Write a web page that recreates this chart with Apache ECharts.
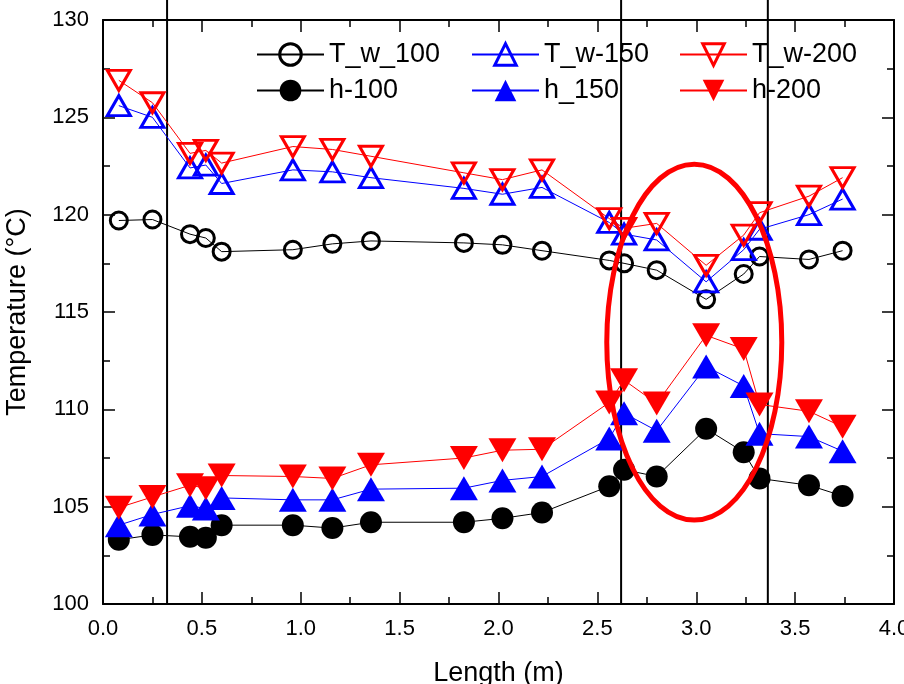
<!DOCTYPE html>
<html>
<head>
<meta charset="utf-8">
<script src="https://cdn.jsdelivr.net/npm/echarts@6/dist/echarts.min.js"></script>
<style>
html,body{margin:0;padding:0;background:#fff;}
#chart{width:904px;height:684px;}
</style>
</head>
<body>
<div id="chart"></div>
<script>
// ---- data ----
const lengths = [0.08, 0.25, 0.44, 0.52, 0.60, 0.96, 1.16, 1.355, 1.825, 2.02, 2.22, 2.56, 2.635, 2.80, 3.05, 3.24, 3.32, 3.57, 3.74];
const Tw100 = [119.7, 119.75, 119.0, 118.8, 118.1, 118.2, 118.5, 118.65, 118.55, 118.45, 118.15, 117.65, 117.5, 117.15, 115.65, 116.95, 117.85, 117.7, 118.15];
const Tw150 = [125.6, 125.0, 122.4, 122.55, 121.6, 122.3, 122.2, 121.9, 121.35, 121.05, 121.4, 119.6, 119.0, 118.7, 116.55, 118.2, 119.25, 120.0, 120.8];
const Tw200 = [126.9, 125.75, 123.15, 123.3, 122.65, 123.5, 123.35, 123.0, 122.15, 121.8, 122.3, 119.8, 119.3, 119.55, 117.4, 118.95, 120.1, 120.95, 121.9];
const h100 = [103.3, 103.55, 103.45, 103.4, 104.05, 104.05, 103.9, 104.2, 104.2, 104.4, 104.7, 106.05, 106.9, 106.55, 109.0, 107.8, 106.45, 106.1, 105.55];
const h150 = [104.05, 104.6, 105.05, 104.9, 105.45, 105.35, 105.35, 105.9, 105.95, 106.35, 106.55, 108.5, 109.8, 108.9, 112.2, 111.2, 108.75, 108.6, 107.85];
const h200 = [104.95, 105.5, 106.1, 105.95, 106.6, 106.55, 106.45, 107.15, 107.5, 107.9, 107.95, 110.35, 111.5, 110.3, 113.8, 113.1, 110.25, 109.9, 109.1];
const seriesNames = ['T_w_100', 'h-100', 'T_w-150', 'h_150', 'T_w-200', 'h-200'];
const refLines = [0.324, 2.62, 3.362];        // vertical reference lines (m)
const refLineTop = 131.05;                     // lines run up past the frame
const ellipseCenter = [2.99, 113.45];          // highlighted region
const ellipseRadii = [0.4425, 9.14];           // half-width (m), half-height (°C)
const xTicks = {min: 0, max: 4, interval: 0.5};
const yTicks = {min: 100, max: 130, interval: 5};

const FONT = 'Liberation Sans, Arial, sans-serif';
const pairs = arr => lengths.map((x, i) => [x, arr[i]]);

function lineSeries(name, arr, color, symbol, rotate, hollow, size) {
  return {
    name: name, type: 'line', data: pairs(arr),
    symbol: symbol, symbolSize: size, symbolRotate: rotate,
    lineStyle: {color: color, width: 1},
    itemStyle: hollow ? {color: 'rgba(255,255,255,0)', borderColor: color, borderWidth: 3}
                      : {color: color, borderWidth: 0},
    color: color,
    emphasis: {disabled: true},
    z: 3
  };
}

const axisCommon = {
  axisLine: {show: true, onZero: false, lineStyle: {color: '#000', width: 2}},
  axisTick: {show: true, inside: true, length: 12, lineStyle: {color: '#000', width: 1.5}},
  minorTick: {show: true, splitNumber: 2, length: 7, lineStyle: {color: '#000', width: 1.5}},
  splitLine: {show: false},
  minorSplitLine: {show: false}
};

function legendItem(name, hollow) {
  return {name: name, itemStyle: {borderWidth: hollow ? 3 : 0}};
}
function legend(data, left) {
  return {
    data: data, orient: 'vertical', left: left, top: 36,
    itemWidth: 67, itemHeight: 27, itemGap: 9,
    textStyle: {fontFamily: FONT, fontSize: 27, color: '#000', lineHeight: 27},
    selectedMode: false
  };
}

const option = {
  backgroundColor: '#fff',
  animation: false,
  grid: {left: 103, top: 20, right: 10, bottom: 80, containLabel: false, outerBoundsMode: 'none'},
  legend: [
    legend([legendItem('T_w_100', true), legendItem('h-100', false)], 251),
    legend([legendItem('T_w-150', true), legendItem('h_150', false)], 466),
    legend([legendItem('T_w-200', true), legendItem('h-200', false)], 674)
  ],
  xAxis: [
    Object.assign({type: 'value', position: 'bottom', min: xTicks.min, max: xTicks.max, interval: xTicks.interval,
      name: 'Length (m)', nameLocation: 'middle', nameGap: 56,
      nameTextStyle: {fontFamily: FONT, fontSize: 27, color: '#000'},
      axisLabel: {fontFamily: FONT, fontSize: 22, color: '#000', margin: 14, formatter: v => v.toFixed(1)}}, axisCommon),
    Object.assign({type: 'value', position: 'top', min: xTicks.min, max: xTicks.max, interval: xTicks.interval,
      axisLabel: {show: false}}, axisCommon)
  ],
  yAxis: [
    Object.assign({type: 'value', position: 'left', min: yTicks.min, max: yTicks.max, interval: yTicks.interval,
      name: 'Temperature (\u00B0C)', nameLocation: 'middle', nameGap: 72, nameRotate: 90,
      nameTextStyle: {fontFamily: FONT, fontSize: 27, color: '#000'},
      axisLabel: {fontFamily: FONT, fontSize: 22, color: '#000', margin: 14}}, axisCommon),
    Object.assign({type: 'value', position: 'right', min: yTicks.min, max: yTicks.max, interval: yTicks.interval,
      axisLabel: {show: false}}, axisCommon)
  ],
  series: [
    {
      type: 'custom', name: 'refLines', data: refLines.map(x => [x]), clip: false, silent: true, z: 2,
      renderItem: function (params, api) {
        const x = api.value(0);
        const p1 = api.coord([x, yTicks.min]);
        const p2 = api.coord([x, refLineTop]);
        return {type: 'line', shape: {x1: p1[0], y1: p1[1], x2: p2[0], y2: p2[1]},
                style: {stroke: '#000', lineWidth: 2}};
      }
    },
    lineSeries('T_w_100', Tw100, '#000000', 'circle', 0, true, 17),
    lineSeries('h-100', h100, '#000000', 'circle', 0, false, 22),
    lineSeries('T_w-150', Tw150, '#0000ff', 'triangle', 0, true, [23, 20]),
    lineSeries('h_150', h150, '#0000ff', 'triangle', 0, false, [28, 24]),
    lineSeries('T_w-200', Tw200, '#ff0000', 'triangle', 180, true, [23, 20]),
    lineSeries('h-200', h200, '#ff0000', 'triangle', 180, false, [28, 24]),
    {
      type: 'custom', name: 'region', data: [ellipseCenter], clip: false, silent: true, z: 5,
      renderItem: function (params, api) {
        const c = api.coord([api.value(0), api.value(1)]);
        const sz = api.size(ellipseRadii);
        return {type: 'ellipse', shape: {cx: c[0], cy: c[1], rx: sz[0], ry: sz[1]},
                style: {fill: 'none', stroke: '#ff0000', lineWidth: 5}};
      }
    }
  ]
};

const chart = echarts.init(document.getElementById('chart'), null, {renderer: 'canvas'});
chart.setOption(option);
</script>
</body>
</html>
